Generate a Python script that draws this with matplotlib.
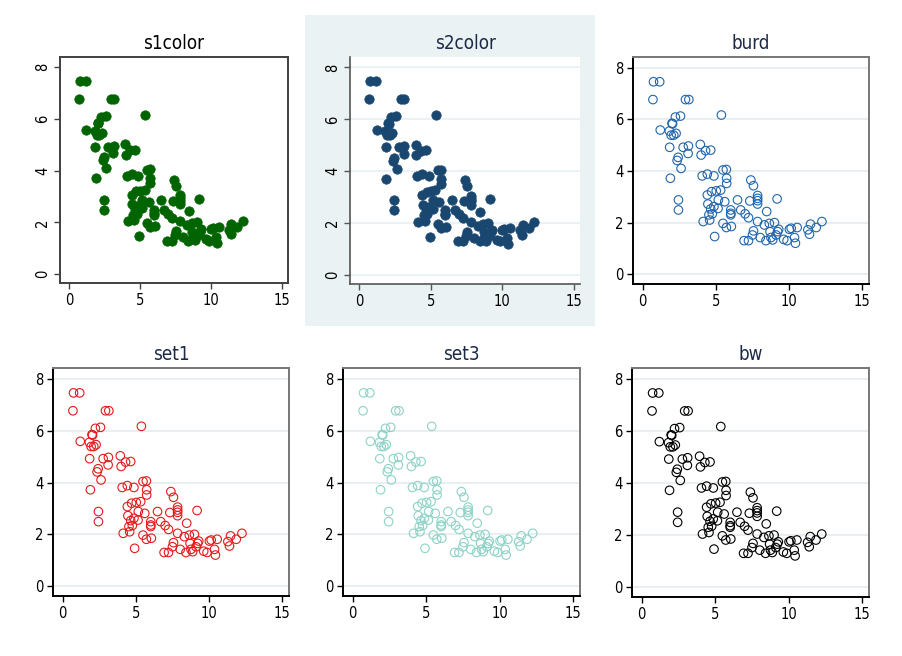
"""Six scheme panels of the same scatter, Stata style."""

import matplotlib
matplotlib.use("Agg")
import matplotlib.pyplot as plt

plt.rcParams['font.family'] = ['DejaVu Sans']
plt.rcParams['font.stretch'] = 'condensed'

x_vals = [0.75, 1.17, 0.71, 2.93, 3.16, 1.21, 5.38, 2.59, 2.24, 2.01,
          1.83, 1.95, 2.13, 2.29, 1.85, 2.77, 3.13, 3.11, 2.43, 2.36,
          2.63, 1.90, 2.45, 2.45, 3.94, 4.00, 4.30, 4.65, 4.07, 4.42,
          4.87, 5.49, 5.72, 5.74, 5.74, 4.42, 4.71, 5.03, 5.33, 5.61,
          4.46, 5.17, 4.65, 4.87, 4.53, 4.76, 4.58, 5.15, 4.14, 5.49,
          5.72, 6.06, 6.02, 6.02, 6.02, 4.92, 6.48, 6.70, 7.00, 7.23,
          7.32, 7.39, 7.57, 7.85, 7.85, 7.85, 7.85, 7.85, 8.47, 9.18,
          7.57, 7.50, 6.93, 7.23, 8.03, 8.31, 8.42, 8.65, 9.00, 8.70,
          8.76, 8.88, 9.11, 9.22, 9.29, 9.63, 9.86, 10.02, 10.14, 10.37,
          10.43, 10.55, 11.28, 11.46, 11.39, 11.85, 12.24, 2.05]
y_vals = [7.46, 7.46, 6.77, 6.77, 6.77, 5.59, 6.17, 6.13, 6.09, 5.85,
          5.55, 5.39, 5.39, 5.46, 4.92, 4.92, 4.97, 4.68, 4.53, 4.41,
          4.10, 3.72, 2.88, 2.49, 5.03, 4.62, 4.79, 4.81, 3.81, 3.88,
          3.81, 4.04, 4.06, 3.72, 3.52, 3.07, 3.20, 3.23, 3.26, 2.81,
          2.72, 2.88, 2.53, 2.62, 2.30, 2.34, 2.10, 2.55, 2.04, 1.97,
          1.81, 1.85, 2.49, 2.36, 2.30, 1.46, 2.88, 2.49, 2.34, 2.19,
          2.84, 3.65, 3.43, 3.05, 2.94, 2.85, 2.72, 2.04, 2.43, 2.92,
          1.68, 1.52, 1.30, 1.30, 1.42, 1.91, 1.30, 1.97, 2.00, 1.65,
          1.42, 1.33, 1.52, 1.65, 1.74, 1.35, 1.30, 1.74, 1.78, 1.42,
          1.20, 1.81, 1.72, 1.94, 1.55, 1.81, 2.04, 5.83]

schemes = ['s1color', 's2color', 'burd', 'set1', 'set3', 'bw']
marker_colors = ['#006400', '#1a476f', '#2166ac', '#e41a1c', '#8dd3c7', '#000000']
x_ticks = [0, 5, 10, 15]
y_ticks = [0, 2, 4, 6, 8]

W, H = 902, 656
# axes boxes in pixels: left, right, top, bottom
boxes = [(60, 288, 57, 283), (350, 580, 57, 284), (633, 869, 57, 284),
         (53, 289, 368, 596), (343, 580, 368, 596), (632, 869, 368, 597)]

fig = plt.figure(figsize=(W / 100, H / 100), dpi=100)
fig.patch.set_facecolor('white')

# light blue graph region behind s2color
bg = fig.add_axes([305 / W, 1 - 326 / H, 290 / W, 311 / H], zorder=-5)
bg.set_facecolor('#eaf2f3')
bg.set_xticks([])
bg.set_yticks([])
for s in bg.spines.values():
    s.set_visible(False)

for i, name in enumerate(schemes):
    l, r, t, b = boxes[i]
    ax = fig.add_axes([l / W, 1 - b / H, (r - l) / W, (b - t) / H])
    ax.set_facecolor('white')
    col = marker_colors[i]
    if i < 2:
        ax.scatter(x_vals, y_vals, s=46, color=col, edgecolors=col, linewidths=0.5, zorder=3)
    else:
        ax.scatter(x_vals, y_vals, s=38, facecolors='none', edgecolors=col, linewidths=0.8, zorder=3)

    vertical = i < 2
    ax.set_xlim(-0.65, 15.45)
    if vertical:
        ax.set_ylim(-0.34, 8.4)
    else:
        ax.set_ylim(-0.38, 8.42)
    ax.set_xticks(x_ticks)
    ax.set_yticks(y_ticks)
    ax.tick_params(direction='out', length=4, width=1, labelsize=10.5, pad=3)
    if vertical:
        for lab in ax.get_yticklabels():
            lab.set_rotation(90)
            lab.set_va('center')

    title_color = 'black' if i == 0 else '#1c2a48'
    ax.set_title(name, fontsize=13.5, color=title_color, pad=6)

    if i == 0:
        for s in ax.spines.values():
            s.set_color('#404040')
            s.set_linewidth(1.4)
        ax.tick_params(color='#404040')
    elif i == 1:
        ax.spines['top'].set_visible(False)
        ax.spines['right'].set_visible(False)
        for s in ['left', 'bottom']:
            ax.spines[s].set_color('#555555')
            ax.spines[s].set_linewidth(1.2)
        ax.tick_params(color='#555555')
        for yv in y_ticks:
            ax.axhline(yv, color='#eaf2f3', linewidth=1.5, zorder=1)
    else:
        for s in ['left', 'bottom']:
            ax.spines[s].set_color('black')
            ax.spines[s].set_linewidth(1.4)
        for s in ['top', 'right']:
            ax.spines[s].set_color('#777777')
            ax.spines[s].set_linewidth(1.4)
        for yv in y_ticks:
            ax.axhline(yv, color='#e9eef0', linewidth=1.5, zorder=1)

fig.savefig('out.png', dpi=100)
